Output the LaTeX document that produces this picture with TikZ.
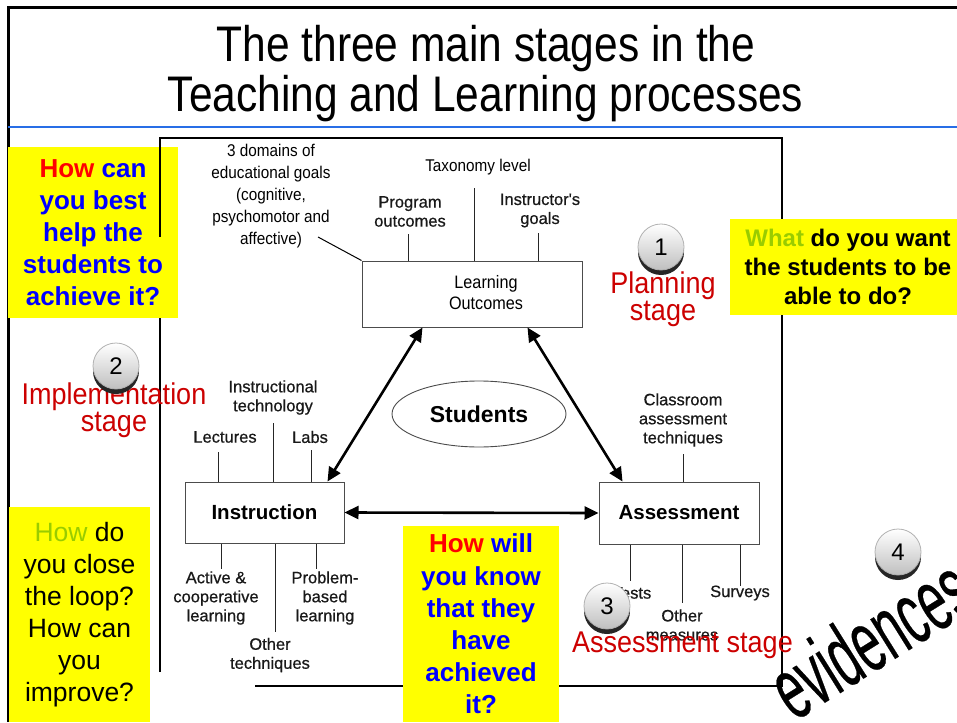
\documentclass[tikz,border=0pt]{standalone}
\usepackage{fontspec}
\setmainfont{Liberation Sans}
\newfontfamily\titlefont[FakeStretch=0.85]{Liberation Sans}
\newfontfamily\narrowfont[FakeStretch=0.9]{Liberation Sans}
\newfontfamily\labelfont[FakeBold=0.6]{Liberation Sans}
\newfontfamily\stagefont[FakeStretch=0.9]{Liberation Sans}
\newfontfamily\wordartfont[FakeStretch=0.55,FakeBold=0.3]{Liberation Sans}
\usetikzlibrary{arrows.meta,shapes.geometric,shadows}

\definecolor{hlyellow}{RGB}{255,255,0}
\definecolor{qred}{RGB}{255,0,0}
\definecolor{qblue}{RGB}{0,0,255}
\definecolor{qgreen}{RGB}{153,204,0}
\definecolor{stagered}{RGB}{204,0,0}
\definecolor{ruleblue}{RGB}{40,110,230}

\begin{document}
\begin{tikzpicture}[x=1pt,y=-1pt,
  qbox/.style={fill=hlyellow, draw=none, inner sep=0pt, align=center},
  stagebox/.style={draw=black!70, line width=1pt, fill=white, inner sep=0pt},
  lbl/.style={inner sep=0pt, align=center, text=black!90, font=\labelfont\fontsize{16.5}{19}\selectfont},
  nlbl/.style={inner sep=0pt, align=center, font=\narrowfont\fontsize{17}{22}\selectfont},
  tick/.style={draw=black!85, line width=1.4pt},
  dblarrow/.style={draw=black, line width=2.6pt,
    {Triangle[length=14pt,width=13pt]}-{Triangle[length=14pt,width=13pt]}},
  stagelbl/.style={inner sep=0pt, align=center, text=stagered,
    font=\stagefont\fontsize{30}{24}\selectfont},
  badge/.style={circle, minimum size=46pt, inner sep=0pt, top color=white,
    bottom color=gray!50, draw=gray!60, line width=0.8pt,
    drop shadow={shadow xshift=0pt, shadow yshift=-5pt, fill=black!85, opacity=1},
    font=\fontsize{24}{24}\selectfont, text=black}
]
\useasboundingbox (0,0) rectangle (957,722);
\clip (0,0) rectangle (957,722);
\fill[white] (0,0) rectangle (957,722);

% slide border and title rule
\draw[line width=3pt] (8,722) -- (8,8) -- (957,8);
\draw[ruleblue, line width=1.3pt] (8,127) -- (957,127);

% title
\node[anchor=base, inner sep=0pt, font=\titlefont\fontsize{50}{50}\selectfont] (title1) at (486,62) {The three main stages in the};
\node[anchor=base, inner sep=0pt, font=\titlefont\fontsize{50}{50}\selectfont] (title2) at (485.5,112) {Teaching and Learning processes};

% frame of the diagram
\draw[line width=1.6pt] (160,672) -- (160,138) -- (782,138) -- (782,686) -- (255,686);

% question boxes
\node[qbox, minimum width=170pt, minimum height=171pt, text=qblue,
  font=\bfseries\fontsize{26}{32}\selectfont] (qhelp) at (93,232.5)
  {\textcolor{qred}{How} can\\you best\\help the\\students to\\achieve it?};
\node[qbox, minimum width=236pt, minimum height=96pt, text=black,
  font=\bfseries\fontsize{24}{29}\selectfont] (qwant) at (848,267)
  {\textcolor{qgreen}{What} do you want\\the students to be\\able to do?};
\node[qbox, minimum width=141pt, minimum height=215pt, text=black,
  font=\fontsize{26.5}{32}\selectfont] (qloop) at (79.5,614.5)
  {\textcolor{qgreen}{How} do\\you close\\the loop?\\How can\\you\\improve?};
\node[qbox, minimum width=156pt, minimum height=196pt, text=qblue,
  font=\bfseries\fontsize{26}{32.2}\selectfont] (qknow) at (481,624)
  {\textcolor{qred}{How} will\\you know\\that they\\have\\achieved\\it?};

% part of the frame line lying over the first box
\draw[line width=1.6pt] (160,138) -- (160,237);

% planning: learning outcomes
\node[stagebox, minimum width=220pt, minimum height=66pt] (lo) at (472,294) {};
\node[inner sep=0pt, align=center, font=\narrowfont\fontsize{18}{21}\selectfont] (lotext) at (486,292.5) {Learning\\Outcomes};
\node[nlbl] (domains) at (271,196) {3 domains of\\educational goals\\(cognitive,\\psychomotor and\\affective)};
\coordinate (domainsend) at (318,237);
\draw[line width=1pt] (domainsend) -- (lo.north west);
\node[nlbl] (tax) at (478,167) {Taxonomy level};
\node[lbl] (prog) at (410,211.5) {Program\\outcomes};
\node[lbl] (igoals) at (540,210.5) {Instructor's\\goals};
\draw[tick] ([xshift=47pt]lo.north west) -- ++(0,-27);
\draw[tick] ([xshift=113pt]lo.north west) -- ++(0,-73);
\draw[tick] ([xshift=177pt]lo.north west) -- ++(0,-28);

% implementation: instruction
\node[stagebox, minimum width=159pt, minimum height=61pt, font=\bfseries\fontsize{20.5}{24}\selectfont] (instr) at (264.5,512.5) {Instruction};
\node[lbl] (lect) at (225,437) {Lectures};
\node[lbl] (itech) at (273,397.5) {Instructional\\technology};
\node[lbl] (labs) at (310,437) {Labs};
\draw[tick] ([xshift=34pt]instr.north west) -- ++(0,-30);
\draw[tick] ([xshift=89pt]instr.north west) -- ++(0,-59);
\draw[tick] ([xshift=127pt]instr.north west) -- ++(0,-32);
\node[lbl] (active) at (216,598) {Active \&\\cooperative\\learning};
\node[lbl] (pbl) at (325,598) {Problem-\\based\\learning};
\node[lbl] (otech) at (270,655) {Other\\techniques};
\draw[tick] ([xshift=37pt]instr.south west) -- ++(0,25);
\draw[tick] ([xshift=91pt]instr.south west) -- ++(0,88);
\draw[tick] ([xshift=132pt]instr.south west) -- ++(0,25);

% assessment
\node[stagebox, minimum width=160pt, minimum height=62pt, font=\bfseries\fontsize{20.5}{24}\selectfont] (assess) at (679,513) {Assessment};
\node[lbl] (cat) at (683,420) {Classroom\\assessment\\techniques};
\draw[tick] ([xshift=85pt]assess.north west) -- ++(0,-28);
\node[lbl] (tests) at (632,593) {Tests};
\node[lbl] (surveys) at (740,593) {Surveys};
\node[lbl] (omeas) at (682,625) {Other\\measures};
\draw[tick] ([xshift=32pt]assess.south west) -- ++(0,36);
\draw[tick] ([xshift=84pt]assess.south west) -- ++(0,58);
\draw[tick] ([xshift=142pt]assess.south west) -- ++(0,41);

% students at the centre
\node[draw=black!70, line width=0.9pt, ellipse, minimum width=174pt, minimum height=66pt, inner sep=0pt,
  font=\bfseries\fontsize{23}{23}\selectfont] (stud) at (479,414) {Students};

% links between the stages
\draw[dblarrow] ([xshift=61pt]lo.south west) -- ([xshift=143pt]instr.north west);
\draw[dblarrow] ([xshift=166pt]lo.south west) -- ([xshift=24pt]assess.north west);
\draw[dblarrow] (instr.east) -- (assess.west);

% stage names
\node[stagelbl] (plan) at (663,299) {Planning\\stage};
\node[stagelbl] (impl) at (114,410) {Implementation\\stage};
\node[stagelbl] (asst) at (682.5,645) {Assessment stage};

% numbered badges
\node[badge] (b1) at (661,247) {1};
\node[badge] (b2) at (116,366) {2};
\node[badge] (b3) at (607,606) {3};
\node[badge] (b4) at (898,552) {4};

% evidences
\node[anchor=base west, inner sep=0pt, rotate=32, font=\wordartfont\fontsize{88}{88}\selectfont] (evid) at (794,722) {evidences};
\end{tikzpicture}
\end{document}
